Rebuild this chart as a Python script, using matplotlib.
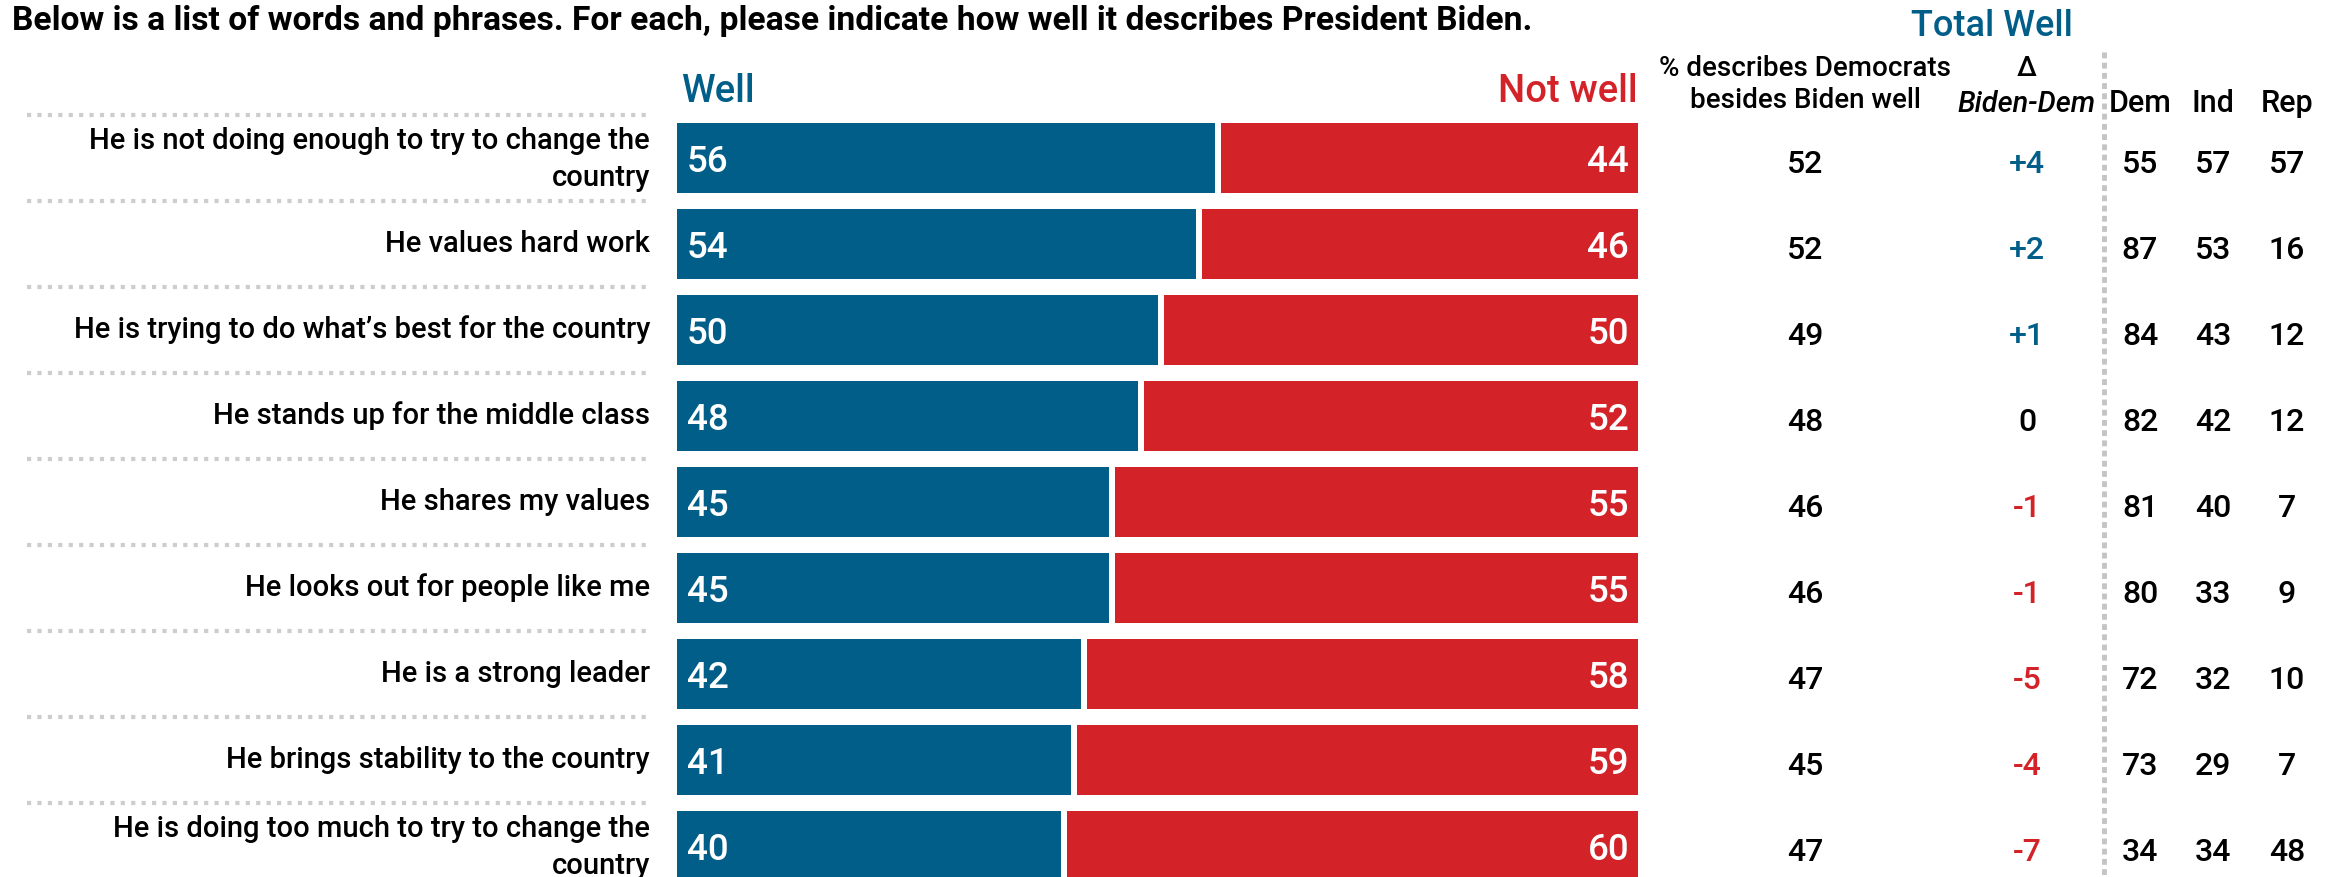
import matplotlib
matplotlib.use("Agg")
import matplotlib.pyplot as plt

# ---- data ----
labels = [
    "He is not doing enough to try to change the\ncountry",
    "He values hard work",
    "He is trying to do what\u2019s best for the country",
    "He stands up for the middle class",
    "He shares my values",
    "He looks out for people like me",
    "He is a strong leader",
    "He brings stability to the country",
    "He is doing too much to try to change the\ncountry",
]
well = [56, 54, 50, 48, 45, 45, 42, 41, 40]
not_well = [44, 46, 50, 52, 55, 55, 58, 59, 60]
dems_well = [52, 52, 49, 48, 46, 46, 47, 45, 47]
delta = [4, 2, 1, 0, -1, -1, -5, -4, -7]
dem = [55, 87, 84, 82, 81, 80, 72, 73, 34]
ind = [57, 53, 43, 42, 40, 33, 32, 29, 34]
rep = [57, 16, 12, 12, 7, 9, 10, 7, 48]
party_headers = ["Dem", "Ind", "Rep"]

BLUE = "#005E89"
RED = "#D42229"
GRAY = "#CDCDCD"
FONT = "Roboto"
WT = "medium"

W, H = 2333, 877
fig = plt.figure(figsize=(W / 100, H / 100), dpi=100)
ax = fig.add_axes([0, 0, 1, 1])
ax.axis("off")

# layout in pixels
X0, X100 = 677, 1638
PX = (X100 - X0) / 100.0
ROW0, ROWSTEP = 158, 86


def X(px):
    return (px - X0) / PX


def Y(py):
    return (py - ROW0) / ROWSTEP


ax.set_xlim(X(0), X(W))
ax.set_ylim(Y(H), Y(0))

rows = list(range(len(labels)))
bh = 70 / ROWSTEP
gap = 6 / PX

ax.barh(rows, well, height=bh, color=BLUE, left=0)
ax.barh(rows, [n - gap for n in not_well], height=bh, color=RED,
        left=[w + gap for w in well])

for i in rows:
    ax.text(X(687), i + 0.05, f"{well[i]}", color="white", fontsize=26.5,
            family=FONT, weight=WT, ha="left", va="center")
    ax.text(X(1629), i + 0.05, f"{not_well[i]}", color="white", fontsize=26.5,
            family=FONT, weight=WT, ha="right", va="center")
    ax.text(X(650), i + (0.02 if "\n" in labels[i] else 0), labels[i],
            color="black", fontsize=21, family=FONT,
            weight=WT, ha="right", va="center", linespacing=1.4)
    ax.text(X(1805), i + 0.08, f"{dems_well[i]}", fontsize=23, family=FONT,
            weight=WT, ha="center", va="center")
    d = delta[i]
    dc = BLUE if d > 0 else (RED if d < 0 else "black")
    ds = f"+{d}" if d > 0 else f"{d}"
    ax.text(X(2027), i + 0.08, ds, fontsize=23, family=FONT, weight=WT,
            color=dc, ha="center", va="center")
    for xp, v in zip([2140, 2213, 2287], [dem[i], ind[i], rep[i]]):
        ax.text(X(xp), i + 0.08, f"{v}", fontsize=23, family=FONT,
                weight=WT, ha="center", va="center")
    # dotted separator above the row
    ax.plot([X(27), X(650)], [i - 0.5, i - 0.5], color=GRAY, lw=3,
            linestyle=(0, (1, 1.5)), dash_capstyle="butt")

# vertical dashed divider
ax.plot([X(2104), X(2104)], [Y(52), Y(H)], color="#C4C4C4", lw=3.5,
        linestyle=(0, (1.2, 0.9)), dash_capstyle="butt")

# headers
ax.text(X(12), Y(21), "Below is a list of words and phrases. For each, please indicate how well it describes President Biden.",
        fontsize=24.2, fontweight="bold", family=FONT, ha="left", va="center")
ax.text(X(1992), Y(27), "Total Well", fontsize=26, family=FONT, weight=WT,
        color=BLUE, ha="center", va="center")
ax.text(X(681), Y(92), "Well", fontsize=27.5, family=FONT, weight=WT,
        color=BLUE, ha="left", va="center")
ax.text(X(1638), Y(92), "Not well", fontsize=27.5, family=FONT, weight=WT,
        color=RED, ha="right", va="center")
ax.text(X(1805), Y(68), "% describes Democrats", fontsize=20, family=FONT,
        weight=WT, ha="center", va="center")
ax.text(X(1805), Y(101), "besides Biden well", fontsize=20, family=FONT,
        weight=WT, ha="center", va="center")
ax.text(X(2027), Y(68), "\u0394", fontsize=20, family=FONT, weight=WT,
        ha="center", va="center")
ax.text(X(2027), Y(104), "Biden-Dem", fontsize=20.8, family=FONT, weight=WT,
        style="italic", ha="center", va="center")
for xp, h in zip([2140, 2213, 2287], party_headers):
    ax.text(X(xp), Y(104), h, fontsize=22, family=FONT, weight=WT,
            ha="center", va="center")

fig.savefig("out.png", dpi=100)
